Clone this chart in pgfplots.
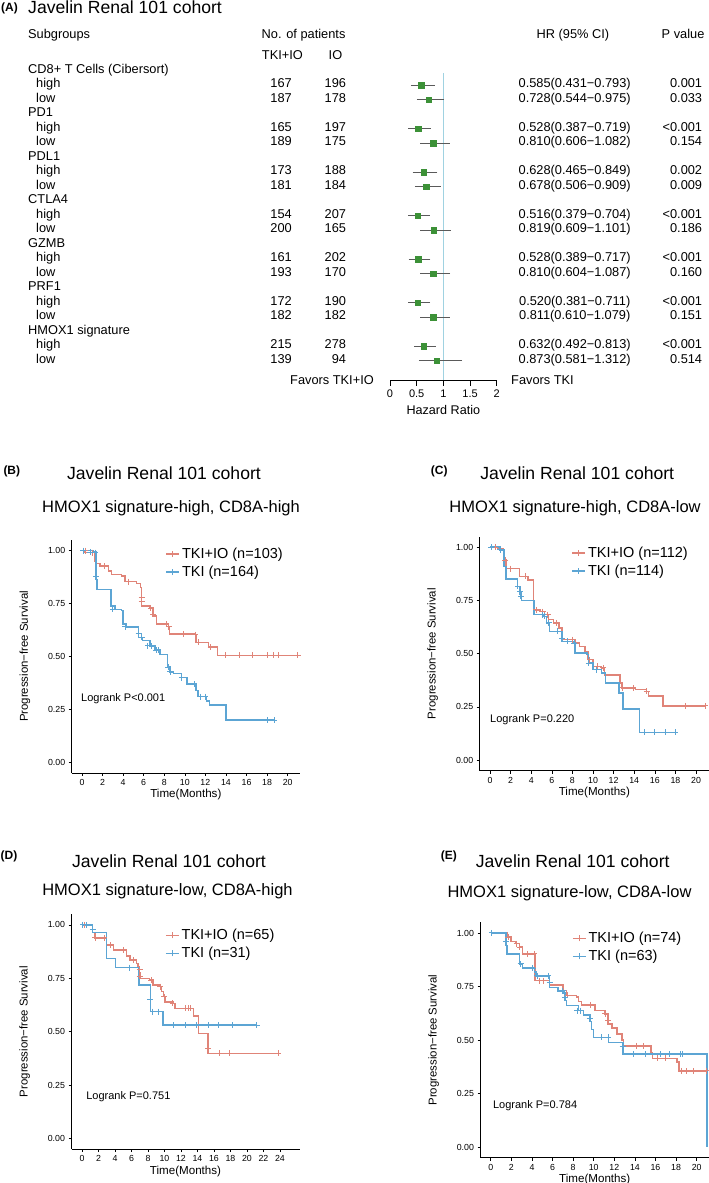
\documentclass[border=0pt]{standalone}
\usepackage{pgfplots}
\pgfplotsset{compat=1.18}
\usepackage{pgfplotstable}
\usepackage{fontspec}
\setmainfont{Liberation Sans}
\definecolor{kmred}{RGB}{224,132,120}
\definecolor{kmblue}{RGB}{92,165,212}
\definecolor{fgreen}{RGB}{60,145,55}
\definecolor{refblue}{RGB}{160,210,225}
\definecolor{cigray}{RGB}{90,90,90}
\newcommand{\fs}[1]{\fontsize{#1}{#1}\selectfont}

\pgfplotstableread{
row hr lo hi
1 0.585 0.431 0.793
2 0.728 0.544 0.975
4 0.528 0.387 0.719
5 0.810 0.606 1.082
7 0.628 0.465 0.849
8 0.678 0.506 0.909
10 0.516 0.379 0.704
11 0.819 0.609 1.101
13 0.528 0.389 0.717
14 0.810 0.604 1.087
16 0.520 0.381 0.711
17 0.811 0.610 1.079
19 0.632 0.492 0.813
20 0.873 0.581 1.312
}\forestdata

\pgfplotsset{
  /pgf/number format/assume math mode=true,
  km/.style={
    scale only axis, anchor=south west,
    ymin=-0.05, ymax=1.05,
    axis x line*=bottom, axis y line*=left,
    axis line style={black, line width=0.8pt, -},
    tick align=outside, major tick length=3pt,
    tick style={black, line width=0.6pt},
    ytick={0,0.25,0.5,0.75,1}, yticklabels={0.00,0.25,0.50,0.75,1.00},
    tick label style={font=\fs{8.8}},
    xlabel={Time(Months)}, ylabel={Progression−free Survival},
    every axis x label/.style={at={(axis description cs:0.5,0)}, anchor=center, yshift=-22pt, font=\fs{11.6}},
    every axis y label/.style={at={(axis description cs:-0.205,0.5)}, anchor=center, rotate=90, font=\fs{11.4}},
    const plot,
    legend cell align=left,
    legend image code/.code={\draw[##1] (0pt,0pt) -- (13pt,0pt); \draw[##1, line width=1pt] (6.5pt,-3pt) -- (6.5pt,3pt);},
    legend style={draw=none, fill=none, font=\fs{14.5}, anchor=north west, inner sep=0pt, row sep=2pt},
    clip=false,
  },
  cr/.style={kmred, only marks, mark=+, mark size=3pt, line width=1pt, forget plot},
  cb/.style={kmblue, only marks, mark=+, mark size=3pt, line width=1pt, forget plot},
}
\tikzset{t/.style={inner sep=0pt, font=\fs{12.8}}}

\begin{document}
\begin{tikzpicture}[x=1pt,y=1pt]
\useasboundingbox (0,0) rectangle (709,1183);

% ---------------- (A) forest plot ----------------
\node[inner sep=0pt, anchor=mid west, font=\bfseries\fs{12}] at (1,{1183-9}) {(A)};
\node[inner sep=0pt, anchor=base west, font=\fs{17.6}] at (28,{1183-14}) {Javelin Renal 101 cohort};
\node[t, anchor=mid west] at (28,{1183-36}) {Subgroups};
\node[t, anchor=mid west] at (261.5,{1183-36}) {No. of patients};
\node[t, anchor=mid] at (572.9,{1183-36}) {HR (95\% CI)};
\node[t, anchor=mid west] at (661.5,{1183-36}) {P value};
\node[t, anchor=mid] at (282.4,{1183-57}) {TKI+IO};
\node[t, anchor=mid] at (335.5,{1183-57}) {IO};
\foreach \k/\g in {0/CD8+ T Cells (Cibersort),3/PD1,6/PDL1,9/CTLA4,12/GZMB,15/PRF1,18/HMOX1 signature}{
  \node[t, anchor=mid west] at (28,{1183-70.7-14.5*\k}) {\g};
}
\foreach \k/\lab/\a/\b/\hr/\p in {
1/high/167/196/0.585(0.431−0.793)/0.001,
2/low/187/178/0.728(0.544−0.975)/0.033,
4/high/165/197/0.528(0.387−0.719)/<0.001,
5/low/189/175/0.810(0.606−1.082)/0.154,
7/high/173/188/0.628(0.465−0.849)/0.002,
8/low/181/184/0.678(0.506−0.909)/0.009,
10/high/154/207/0.516(0.379−0.704)/<0.001,
11/low/200/165/0.819(0.609−1.101)/0.186,
13/high/161/202/0.528(0.389−0.717)/<0.001,
14/low/193/170/0.810(0.604−1.087)/0.160,
16/high/172/190/0.520(0.381−0.711)/<0.001,
17/low/182/182/0.811(0.610−1.079)/0.151,
19/high/215/278/0.632(0.492−0.813)/<0.001,
20/low/139/94/0.873(0.581−1.312)/0.514}{
  \node[t, anchor=mid west] at (36,{1183-70.7-14.5*\k}) {\lab};
  \node[t, anchor=mid east] at (292,{1183-70.7-14.5*\k}) {\a};
  \node[t, anchor=mid east] at (346.2,{1183-70.7-14.5*\k}) {\b};
  \node[t, anchor=mid] at (574.7,{1183-70.7-14.5*\k}) {\hr};
  \node[t, anchor=mid east] at (702.3,{1183-70.7-14.5*\k}) {\p};
}
\node[t, anchor=mid east] at (374,{1183-381.7}) {Favors TKI+IO};
\node[t, anchor=mid west] at (511,{1183-381.7}) {Favors TKI};

\begin{axis}[
  at={(390pt,803pt)}, anchor=south west,
  scale only axis, width=106.7pt, height=307.1pt,
  xmin=0, xmax=2, ymin=-21.33, ymax=-0.15,
  axis x line*=bottom, axis y line=none, ytick=\empty,
  axis line style={black, line width=0.8pt, -},
  xtick={0,0.5,1,1.5,2}, xticklabels={0,0.5,1,1.5,2},
  tick align=outside, major tick length=6pt, tick style={black, line width=0.8pt},
  xticklabel style={font=\fs{11}},
  xlabel={Hazard Ratio},
  every axis x label/.style={at={(axis description cs:0.5,0)}, anchor=center, yshift=-30pt, font=\fs{12.6}},
  clip=false,
]
\addplot[refblue, line width=0.8pt, mark=none] coordinates {(1,-0.15) (1,-21.33)};
\addplot[only marks, mark=square*, mark size=2.6pt, color=fgreen,
  error bars/.cd, x dir=both, x explicit,
  error bar style={draw=cigray, line width=0.7pt},
  error mark options={draw=cigray, mark size=2.2pt, line width=0.7pt}]
  table[x=hr, y expr=-\thisrow{row},
        x error plus expr=\thisrow{hi}-\thisrow{hr},
        x error minus expr=\thisrow{hr}-\thisrow{lo}] {\forestdata};
\end{axis}

% ---------------- (B) ----------------
\node[inner sep=0pt, anchor=mid west, font=\bfseries\fs{12}] at (3.3,{1183-471.7}) {(B)};
\node[inner sep=0pt, anchor=mid, font=\fs{17.6}] at (164,{1183-476.5}) {Javelin Renal 101 cohort};
\node[inner sep=0pt, anchor=mid, font=\fs{16.5}] at (171,{1183-509.5}) {HMOX1 signature-high, CD8A-high};
\begin{axis}[km, at={(71.7pt,410pt)}, width=228.3pt, height=233pt,
  xmin=-1, xmax=21.2, xtick={0,2,...,20},
  legend style={at={(axis description cs:0.41,0.975)}}]
\addplot[kmred, line width=1.5pt, mark=none] coordinates {(0,1) (0.3,0.99) (1.26,0.95) (1.42,0.938) (1.75,0.927) (2.56,0.903) (2.88,0.888) (3.85,0.88) (4.17,0.853) (5.3,0.844) (5.7,0.825) (5.8,0.739) (6.6,0.728) (6.9,0.692) (7.25,0.653) (8.4,0.64) (8.5,0.606) (11.0,0.603) (11.1,0.567) (12.3,0.544) (13.2,0.505) (21.0,0.505)};
\addlegendentry{TKI+IO (n=103)}
\addplot[kmblue, line width=1.5pt, mark=none] coordinates {(0,1) (1.1,0.993) (1.36,0.864) (1.45,0.817) (2.8,0.739) (3.2,0.723) (3.85,0.716) (4.0,0.653) (4.3,0.64) (5.5,0.59) (5.9,0.575) (6.6,0.55) (7.1,0.53) (7.6,0.51) (8.3,0.45) (8.55,0.427) (8.9,0.42) (9.7,0.40) (10.2,0.37) (11.1,0.34) (11.3,0.31) (12.1,0.29) (12.4,0.27) (14.0,0.20) (18.7,0.20)};
\addlegendentry{TKI (n=164)}
\addplot[cr] coordinates {(0.3,1.0) (1.0,0.99) (2.2,0.927) (4.5,0.853) (5.8,0.78) (5.8,0.76) (6.7,0.728) (6.95,0.70) (8.2,0.653) (8.45,0.64) (9.9,0.606) (11.0,0.603) (11.3,0.567) (12.5,0.544) (14.0,0.505) (15.3,0.505) (16.6,0.505) (18.0,0.505) (18.6,0.505) (19.1,0.505) (21.0,0.505)};
\addplot[cb] coordinates {(0.1,1.0) (0.8,0.993) (1.3,0.99) (1.4,0.88) (3.0,0.723) (4.2,0.64) (5.5,0.61) (5.8,0.59) (6.4,0.55) (6.8,0.55) (7.2,0.53) (7.4,0.53) (8.4,0.45) (8.6,0.427) (9.7,0.40) (10.9,0.37) (11.5,0.31) (12.0,0.31) (18.0,0.20) (18.7,0.20)};
\node[inner sep=0pt, anchor=mid west, font=\fs{11}] at (axis cs:-0.1,0.30) {Logrank P<0.001};
\end{axis}

% ---------------- (C) ----------------
\node[inner sep=0pt, anchor=mid west, font=\bfseries\fs{12}] at (430.7,{1183-471.7}) {(C)};
\node[inner sep=0pt, anchor=mid, font=\fs{17.6}] at (577.3,{1183-476.5}) {Javelin Renal 101 cohort};
\node[inner sep=0pt, anchor=mid, font=\fs{16.5}] at (575,{1183-509.8}) {HMOX1 signature-high, CD8A-low};
\begin{axis}[km, at={(479.7pt,412.3pt)}, width=229.3pt, height=234.1pt,
  xmin=-1, xmax=21.26, xtick={0,2,...,20},
  legend style={at={(axis description cs:0.40,0.965)}}]
\addplot[kmred, line width=1.5pt, mark=none] coordinates {(0,1) (0.8,0.995) (1.3,0.98) (1.36,0.94) (1.55,0.90) (2.85,0.8625) (3.7,0.847) (4.2,0.706) (4.85,0.698) (5.3,0.683) (5.7,0.66) (6.15,0.644) (6.7,0.62) (7.0,0.566) (8.25,0.55) (8.7,0.534) (9.2,0.511) (9.5,0.472) (10.0,0.44) (10.8,0.433) (11.1,0.40) (12.6,0.3625) (12.8,0.339) (14.1,0.331) (15.2,0.323) (15.4,0.30) (16.8,0.255) (21.0,0.255)};
\addlegendentry{TKI+IO (n=112)}
\addplot[kmblue, line width=1.5pt, mark=none] coordinates {(0,1) (0.97,0.9875) (1.36,0.909) (1.55,0.85) (2.65,0.816) (2.9,0.7875) (3.07,0.75) (4.27,0.683) (5.2,0.675) (5.5,0.644) (5.76,0.605) (7.0,0.558) (8.1,0.55) (8.25,0.503) (9.4,0.495) (9.55,0.456) (10.0,0.425) (10.8,0.41) (11.2,0.3625) (12.5,0.316) (12.9,0.24) (14.5,0.13) (18.0,0.13)};
\addlegendentry{TKI (n=114)}
\addplot[cr] coordinates {(0.5,1.0) (1.5,0.94) (2.0,0.90) (3.4,0.8625) (4.5,0.706) (5.1,0.698) (5.6,0.683) (6.5,0.644) (8.0,0.566) (9.7,0.472) (10.4,0.44) (11.0,0.433) (12.9,0.339) (13.9,0.339) (15.2,0.323) (19.0,0.255) (20.9,0.255)};
\addplot[cb] coordinates {(0.1,1.0) (1.0,0.9875) (2.7,0.816) (2.9,0.79) (3.0,0.77) (5.1,0.683) (5.3,0.675) (5.7,0.644) (6.6,0.605) (7.0,0.57) (7.5,0.558) (8.2,0.55) (9.6,0.456) (10.3,0.425) (15.0,0.13) (16.0,0.13) (17.0,0.13) (18.0,0.13)};
\node[inner sep=0pt, anchor=mid west, font=\fs{11}] at (axis cs:0.0,0.19) {Logrank P=0.220};
\end{axis}

% ---------------- (D) ----------------
\node[inner sep=0pt, anchor=mid west, font=\bfseries\fs{12}] at (0.5,{1183-857}) {(D)};
\node[inner sep=0pt, anchor=mid, font=\fs{17.6}] at (169,{1183-864.5}) {Javelin Renal 101 cohort};
\node[inner sep=0pt, anchor=mid, font=\fs{16.5}] at (167.5,{1183-893.2}) {HMOX1 signature-low, CD8A-high};
\begin{axis}[km, at={(71.5pt,34pt)}, width=228pt, height=234.7pt,
  xmin=-1.27, xmax=26.37, xtick={0,2,...,24},
  legend style={at={(axis description cs:0.41,0.945)}}]
\addplot[kmred, line width=1.5pt, mark=none] coordinates {(0,1) (1.3,0.964) (1.58,0.94) (3.0,0.906) (3.8,0.883) (5.4,0.855) (5.8,0.836) (6.6,0.82) (6.8,0.805) (6.95,0.777) (7.03,0.75) (8.2,0.742) (8.6,0.719) (9.45,0.711) (9.65,0.6875) (9.86,0.664) (10.06,0.64) (11.07,0.633) (11.27,0.609) (13.5,0.573) (14.1,0.492) (15.3,0.398) (23.8,0.398)};
\addlegendentry{TKI+IO (n=65)}
\addplot[kmblue, line width=1.5pt, mark=none] coordinates {(0,1) (1.25,0.964) (3.0,0.844) (4.08,0.80) (6.9,0.719) (8.3,0.594) (9.8,0.531) (21.2,0.531)};
\addlegendentry{TKI (n=31)}
\addplot[cr] coordinates {(0.3,1.0) (1.6,0.94) (2.7,0.94) (3.5,0.906) (5.0,0.883) (6.3,0.836) (7.0,0.79) (7.0,0.76) (8.4,0.742) (9.5,0.711) (10.0,0.664) (11.0,0.633) (12.5,0.609) (12.9,0.609) (13.2,0.609) (15.3,0.42) (16.7,0.398) (17.9,0.398) (23.8,0.398)};
\addplot[cb] coordinates {(0.1,1.0) (0.5,1.0) (1.3,0.98) (5.8,0.80) (8.3,0.65) (8.6,0.594) (9.3,0.594) (11.1,0.531) (12.5,0.531) (13.9,0.531) (15.3,0.531) (16.5,0.531) (18.3,0.531) (21.2,0.531)};
\node[inner sep=0pt, anchor=mid west, font=\fs{11}] at (axis cs:0.5,0.195) {Logrank P=0.751};
\end{axis}

% ---------------- (E) ----------------
\node[inner sep=0pt, anchor=mid west, font=\bfseries\fs{12}] at (440.7,{1183-856.7}) {(E)};
\node[inner sep=0pt, anchor=mid, font=\fs{17.6}] at (572.7,{1183-864.8}) {Javelin Renal 101 cohort};
\node[inner sep=0pt, anchor=mid, font=\fs{16.5}] at (569.5,{1183-894.8}) {HMOX1 signature-low, CD8A-low};
\begin{axis}[km, at={(480.5pt,25.3pt)}, width=228.5pt, height=235.4pt,
  xmin=-1, xmax=21.2, xtick={0,2,...,20},
  legend style={at={(axis description cs:0.40,0.967)}}]
\addplot[kmred, line width=1.5pt, mark=none] coordinates {(0,1) (1.6,0.981) (1.96,0.961) (2.45,0.95) (2.78,0.934) (3.1,0.903) (4.31,0.778) (5.7,0.758) (7.03,0.731) (7.35,0.708) (8.33,0.70) (8.5,0.68) (8.82,0.664) (10.13,0.6375) (11.1,0.622) (11.37,0.575) (11.76,0.555) (12.25,0.528) (12.75,0.50) (12.9,0.473) (15.55,0.442) (15.72,0.414) (18.1,0.398) (18.3,0.356) (21.1,0.356)};
\addlegendentry{TKI+IO (n=74)}
\addplot[kmblue, line width=1.5pt, mark=none] coordinates {(0,1) (1.47,0.942) (1.57,0.903) (2.78,0.856) (3.1,0.836) (4.25,0.817) (4.41,0.80) (5.72,0.745) (6.54,0.73) (7.12,0.72) (7.19,0.684) (7.35,0.661) (8.5,0.6375) (8.99,0.617) (9.64,0.586) (9.8,0.548) (9.97,0.5125) (11.44,0.489) (12.84,0.434) (21.0,0.434) (21.0,0.0)};
\addlegendentry{TKI (n=63)}
\addplot[cr] coordinates {(1.7,0.981) (2.5,0.95) (2.8,0.934) (3.6,0.903) (4.2,0.903) (4.7,0.778) (5.1,0.778) (7.5,0.708) (9.7,0.664) (11.1,0.622) (11.4,0.59) (14.2,0.473) (14.8,0.473) (16.2,0.414) (17.0,0.414) (18.5,0.356) (19.0,0.356) (19.7,0.356) (21.0,0.356)};
\addplot[cb] coordinates {(0.1,1.0) (1.47,0.96) (2.9,0.856) (4.1,0.836) (4.5,0.80) (5.6,0.80) (5.72,0.77) (7.0,0.73) (7.2,0.70) (8.4,0.6375) (8.7,0.6375) (9.6,0.60) (10.8,0.5125) (11.4,0.5125) (12.8,0.47) (13.9,0.434) (15.0,0.434) (16.5,0.434) (17.4,0.434) (18.4,0.434) (18.6,0.434)};
\node[inner sep=0pt, anchor=mid west, font=\fs{11}] at (axis cs:0.2,0.19) {Logrank P=0.784};
\end{axis}

\end{tikzpicture}
\end{document}
